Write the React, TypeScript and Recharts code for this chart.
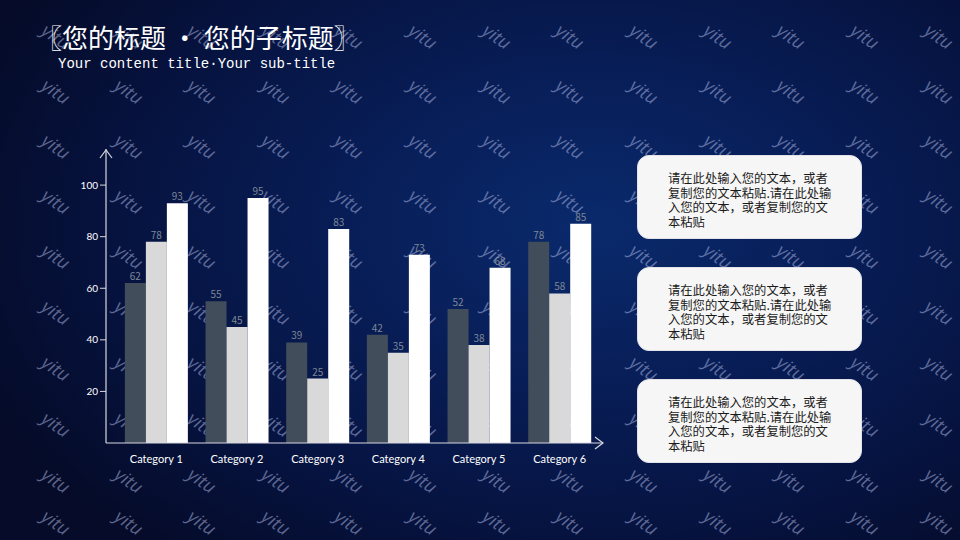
import React from "react";
import { BarChart, Bar, XAxis, YAxis, LabelList } from "recharts";

const categories = ["Category 1", "Category 2", "Category 3", "Category 4", "Category 5", "Category 6"];
const series1 = [62, 55, 39, 42, 52, 78];
const series2 = [78, 45, 25, 35, 38, 58];
const series3 = [93, 95, 83, 73, 68, 85];
const yTicks = [20, 40, 60, 80, 100];

const title = "〖您的标题 • 您的子标题〗";
const subtitle = "Your content title·Your sub-title";
const boxLines = [
  "请在此处输入您的文本，或者",
  "复制您的文本粘贴.请在此处输",
  "入您的文本，或者复制您的文",
  "本粘贴",
];

const data = categories.map((c, i) => ({ name: c, s1: series1[i], s2: series2[i], s3: series3[i] }));

const wmCols = [55, 128, 201, 275, 348, 422, 496, 569, 643, 717, 790, 864, 938];
const wmRows = [38, 93, 148, 203, 258, 314, 370, 426, 482, 524];

export default function App() {
  return (
    <div
      style={{
        position: "absolute",
        left: 0,
        top: 0,
        width: 960,
        height: 540,
        overflow: "hidden",
        background: "radial-gradient(ellipse 70% 80% at 62% 42%, #0a2a6c 0%, #081e58 35%, #061340 70%, #050b28 100%)",
        fontFamily: "'Noto Sans CJK SC', 'Noto Sans', sans-serif",
      }}
    >
      <style>{`body{margin:0;background:#050b28;}`}</style>
      <svg width={960} height={540} style={{ position: "absolute", left: 0, top: 0 }}>
        {wmRows.map((y) =>
          wmCols.map((x) => (
            <text
              key={`${x}-${y}`}
              x={x}
              y={y}
              transform={`rotate(35 ${x} ${y})`}
              textAnchor="middle"
              dominantBaseline="middle"
              fontSize={18}
              fontStyle="italic"
              fontFamily="'Open Sans', sans-serif"
              fill="rgba(180,190,230,0.5)"
            >
              yitu
            </text>
          ))
        )}
      </svg>
      <div style={{ position: "absolute", left: 36, top: 19, fontSize: 26, color: "#ffffff", lineHeight: "36px", whiteSpace: "nowrap" }}>
        {title}
      </div>
      <div
        style={{
          position: "absolute",
          left: 58,
          top: 56,
          fontSize: 14,
          color: "#ffffff",
          fontFamily: "'Liberation Mono', 'DejaVu Sans Mono', monospace",
          whiteSpace: "nowrap",
        }}
      >
        {subtitle}
      </div>
      <div style={{ position: "absolute", left: 0, top: 0 }}>
        <BarChart
          width={960}
          height={540}
          data={data}
          margin={{ top: 149, right: 357, bottom: 67, left: 66 }}
          barCategoryGap="11%"
          barGap={0}
        >
          <XAxis
            dataKey="name"
            height={30}
            padding={{ left: 10, right: 3 }}
            axisLine={{ stroke: "#d8d8e0", strokeWidth: 1.2 }}
            tickLine={false}
            tick={{ fill: "#ffffff", fontSize: 11, fontFamily: "Lato, 'Open Sans', sans-serif" }}
            tickMargin={6}
            interval={0}
          />
          <YAxis
            width={40}
            domain={[0, 114]}
            ticks={yTicks}
            axisLine={{ stroke: "#d8d8e0", strokeWidth: 1.2 }}
            tickLine={{ stroke: "#d8d8e0" }}
            tickSize={6}
            tick={{ fill: "#ffffff", fontSize: 10, fontFamily: "Lato, 'Open Sans', sans-serif" }}
          />
          <Bar dataKey="s1" fill="#414d5b" isAnimationActive={false}>
            <LabelList dataKey="s1" position="top" offset={3} fill="#7d8796" fontSize={10} />
          </Bar>
          <Bar dataKey="s2" fill="#d9d9d9" isAnimationActive={false}>
            <LabelList dataKey="s2" position="top" offset={3} fill="#7d8796" fontSize={10} />
          </Bar>
          <Bar dataKey="s3" fill="#ffffff" isAnimationActive={false}>
            <LabelList dataKey="s3" position="top" offset={3} fill="#7d8796" fontSize={10} />
          </Bar>
        </BarChart>
      </div>
      <svg width={960} height={540} style={{ position: "absolute", left: 0, top: 0, pointerEvents: "none" }}>
        <polyline points="100,158 106,150 112,158" fill="none" stroke="#d8d8e0" strokeWidth={1.2} />
        <polyline points="595,437 603,443 595,449" fill="none" stroke="#d8d8e0" strokeWidth={1.2} />
      </svg>
      {[155, 267, 379].map((top) => (
        <div
          key={top}
          style={{
            position: "absolute",
            left: 637,
            top,
            width: 225,
            height: 84,
            boxSizing: "border-box",
            background: "#f6f6f6",
            border: "1px solid #e2e2e8",
            borderRadius: 12,
            padding: "15px 0 0 30px",
            fontSize: 12.3,
            lineHeight: "14.5px",
            color: "#1a1a1a",
          }}
        >
          {boxLines.map((l, i) => (
            <div key={i} style={{ whiteSpace: "nowrap" }}>
              {l}
            </div>
          ))}
        </div>
      ))}
    </div>
  );
}
